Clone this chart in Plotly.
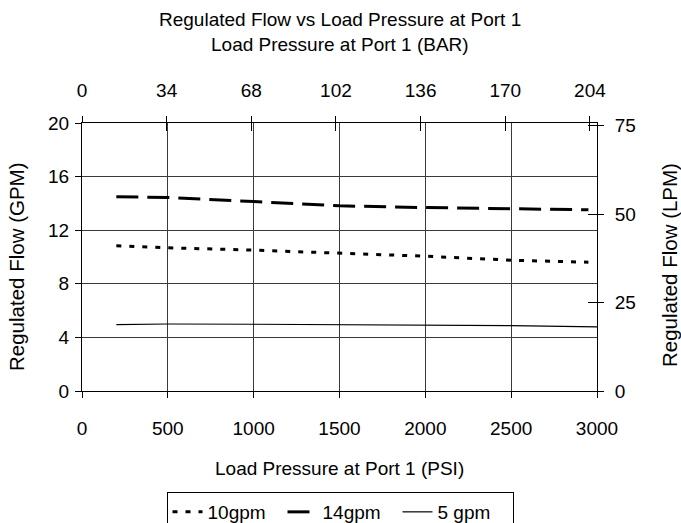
import plotly.graph_objects as go

psi = [200, 500, 1000, 1500, 2000, 2500, 2950]
flow_10 = [10.84, 10.69, 10.51, 10.29, 10.06, 9.76, 9.61]
flow_14 = [14.49, 14.44, 14.14, 13.82, 13.69, 13.62, 13.52]
psi_5 = [200, 500, 1000, 1500, 2000, 2500, 3000]
flow_5 = [4.96, 5.0, 4.98, 4.96, 4.93, 4.88, 4.78]

psi_ticks = [0, 500, 1000, 1500, 2000, 2500, 3000]
bar_ticks = [0, 34, 68, 102, 136, 170, 204]
gpm_ticks = [0, 4, 8, 12, 16, 20]
lpm_ticks = [0, 25, 50, 75]

PSI_PER_BAR = 14.5038
LPM_PER_GPM = 3.78541

FONT = "Liberation Sans, Arial, sans-serif"
FS = 19

PLOT_L, PLOT_R, PLOT_T, PLOT_B = 82, 597, 123, 391
W, H = 681, 523

fig = go.Figure()
fig.add_trace(go.Scatter(x=psi, y=flow_10, name="10gpm", mode="lines",
                         line=dict(color="black", width=3, dash="5px,8px")))
fig.add_trace(go.Scatter(x=psi, y=flow_14, name="14gpm", mode="lines",
                         line=dict(color="black", width=3, dash="22px,9px")))
fig.add_trace(go.Scatter(x=psi_5, y=flow_5, name="5 gpm", mode="lines",
                         line=dict(color="black", width=1.2)))
# helper traces for secondary axes
for xa, ya in [("x2", "y"), ("x", "y2"), ("x3", "y"), ("x", "y3")]:
    fig.add_trace(go.Scatter(x=[0], y=[None], xaxis=xa, yaxis=ya, showlegend=False,
                             hoverinfo="skip"))

common = dict(zeroline=False, tickcolor="black", tickfont=dict(size=FS),
              linecolor="black", linewidth=1, showline=True)

def px(xpix):
    return (xpix - PLOT_L) / (PLOT_R - PLOT_L)
def py(ypix):
    return (PLOT_B - ypix) / (PLOT_B - PLOT_T)

fig.update_layout(
    width=W, height=H,
    margin=dict(l=PLOT_L, r=W - PLOT_R, t=PLOT_T, b=H - PLOT_B, autoexpand=False),
    paper_bgcolor="white", plot_bgcolor="white",
    font=dict(family=FONT, size=FS, color="black"),
    showlegend=True,
    legend=dict(orientation="h", x=340 / W, xref="container", xanchor="center",
                y=(H - 492) / H, yref="container", yanchor="top",
                bordercolor="black", borderwidth=1, font=dict(size=FS),
                entrywidth=70, tracegroupgap=0),
    xaxis=dict(range=[0, 3000], tickvals=psi_ticks, showgrid=True, gridcolor="#3a3a3a",
               gridwidth=1, ticks="outside", ticklen=6, ticklabelstandoff=14, **common),
    xaxis2=dict(range=[0, 3000 / PSI_PER_BAR], tickvals=bar_ticks, overlaying="x",
                side="top", anchor="y", showgrid=False, ticks="outside", ticklen=6,
                ticklabelstandoff=11, **common),
    xaxis3=dict(range=[0, 3000 / PSI_PER_BAR], tickvals=bar_ticks, overlaying="x",
                side="top", anchor="y", showgrid=False, ticks="inside", ticklen=8,
                showticklabels=False, **common),
    yaxis=dict(range=[0, 20], tickvals=gpm_ticks, showgrid=True, gridcolor="#3a3a3a",
               gridwidth=1, ticks="outside", ticklen=6, ticklabelstandoff=2, **common),
    yaxis2=dict(range=[0, 20 * LPM_PER_GPM], tickvals=lpm_ticks, overlaying="y",
                side="right", anchor="x", showgrid=False, ticks="outside", ticklen=6,
                ticklabelstandoff=7, **common),
    yaxis3=dict(range=[0, 20 * LPM_PER_GPM], tickvals=lpm_ticks, overlaying="y",
                side="right", anchor="x", showgrid=False, ticks="inside", ticklen=9,
                showticklabels=False, **common),
)

titles = [
    ("Regulated Flow vs Load Pressure at Port 1", 340, 19, 0, FS),
    ("Load Pressure at Port 1 (BAR)", 340, 44, 0, FS),
    ("Load Pressure at Port 1 (PSI)", 339, 468, 0, FS),
    ("Regulated Flow (GPM)", 16, 267, -90, 20.5),
    ("Regulated Flow (LPM)", 669, 265, -90, 20.5),
]
for text, x, y, ang, fs in titles:
    fig.add_annotation(text=text, x=px(x), y=py(y), xref="paper", yref="paper",
                       showarrow=False, textangle=ang, font=dict(size=fs),
                       xanchor="center", yanchor="middle")

fig.write_html("out.html", config={"displayModeBar": False},
               post_script="document.body.style.margin='0';document.body.style.padding='0';")
